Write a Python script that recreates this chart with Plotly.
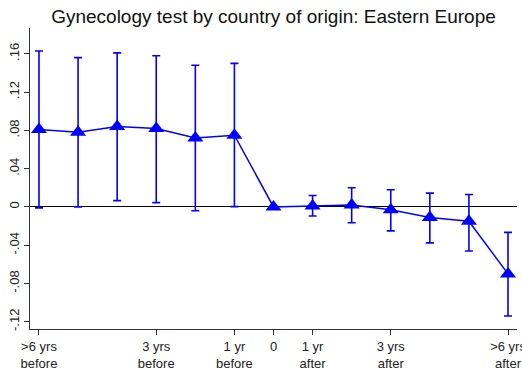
import plotly.graph_objects as go

# Event-time coefficients with 95% confidence bounds
event_time = [-6, -5, -4, -3, -2, -1, 0, 1, 2, 3, 4, 5, 6]
coef = [0.081, 0.078, 0.084, 0.082, 0.072, 0.075, 0.0, 0.001, 0.002, -0.003, -0.011, -0.015, -0.070]
ci_upper = [0.163, 0.156, 0.161, 0.158, 0.148, 0.150, 0.0, 0.012, 0.020, 0.018, 0.0144, 0.013, -0.0266]
ci_lower = [-0.001, 0.0, 0.0066, 0.0045, -0.004, 0.0003, 0.0, -0.0095, -0.0165, -0.025, -0.0376, -0.046, -0.114]

x_tick_vals = [-6, -3, -1, 0, 1, 3, 6]
x_tick_text = [">6 yrs<br>before", "3 yrs<br>before", "1 yr<br>before", "0",
               "1 yr<br>after", "3 yrs<br>after", ">6 yrs<br>after"]
y_tick_vals = [-0.12, -0.08, -0.04, 0, 0.04, 0.08, 0.12, 0.16]
y_tick_text = ["-.12", "-.08", "-.04", "0", ".04", ".08", ".12", ".16"]

title_text = "Gynecology test by country of origin: Eastern Europe"

blue = "#0000FF"
axis_col = "#333333"

fig = go.Figure()

fig.add_trace(go.Scatter(
    x=event_time,
    y=coef,
    mode="lines+markers",
    line=dict(color=blue, width=1.5),
    marker=dict(symbol="triangle-up", size=14, color=blue),
    error_y=dict(
        type="data",
        symmetric=False,
        array=[u - c for u, c in zip(ci_upper, coef)],
        arrayminus=[c - l for c, l in zip(coef, ci_lower)],
        color=blue,
        thickness=1.6,
        width=4,
    ),
    showlegend=False,
    cliponaxis=False,
))

fig.update_layout(
    width=522,
    height=382,
    margin=dict(l=30, r=5, t=28, b=53),
    paper_bgcolor="white",
    plot_bgcolor="white",
    font=dict(family="Liberation Sans, Arial, sans-serif", color="#222222", size=13),
    title=dict(
        text=title_text,
        x=0.5,
        xref="paper",
        xanchor="center",
        y=1 - 16 / 382,
        yanchor="middle",
        font=dict(size=19, color="#111111"),
    ),
    xaxis=dict(
        range=[-6.23, 6.23],
        tickvals=x_tick_vals,
        ticktext=x_tick_text,
        ticklabeloverflow="allow",
        automargin=False,
        showgrid=False,
        zeroline=False,
        showline=True,
        linecolor=axis_col,
        linewidth=1,
        ticks="outside",
        ticklen=5,
        tickcolor=axis_col,
        tickfont=dict(size=13),
    ),
    yaxis=dict(
        range=[-0.1276, 0.187],
        tickvals=y_tick_vals,
        ticktext=y_tick_text,
        tickangle=-90,
        automargin=False,
        showgrid=False,
        zeroline=True,
        zerolinecolor="black",
        zerolinewidth=1,
        showline=True,
        linecolor=axis_col,
        linewidth=1,
        ticks="outside",
        ticklen=5,
        tickcolor=axis_col,
        tickfont=dict(size=13),
    ),
)

fig.write_html("out.html")
